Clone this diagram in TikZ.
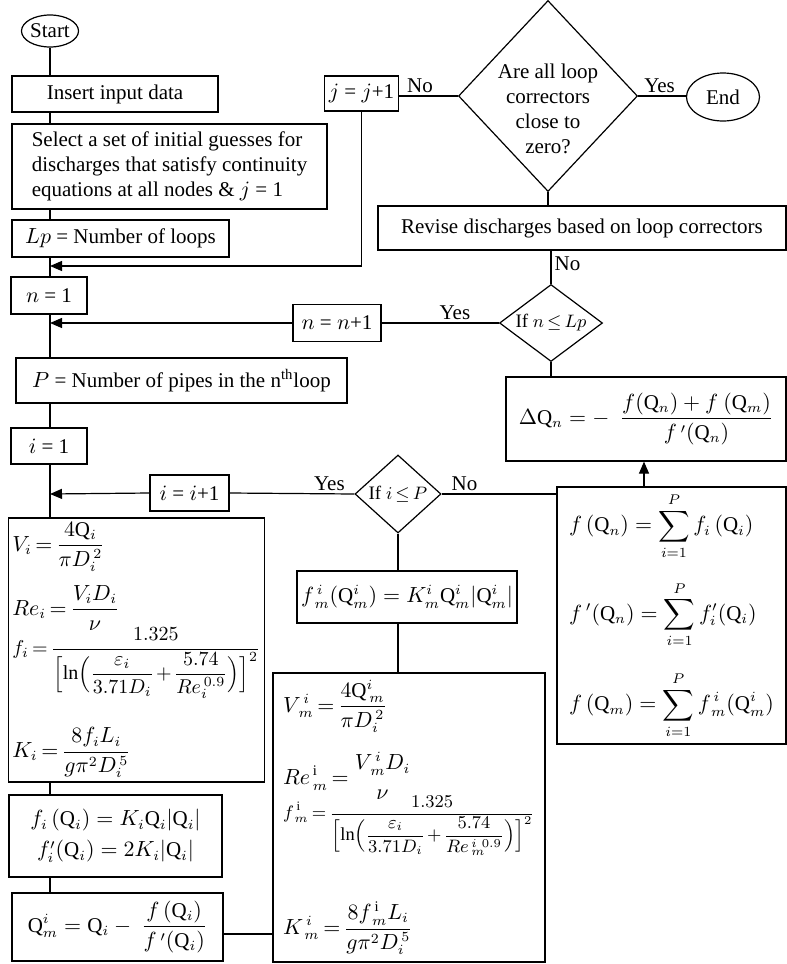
\documentclass[tikz,border=0pt]{standalone}
\usepackage{amsmath}
\usepackage{fontspec}
\setmainfont{Liberation Serif}
\usetikzlibrary{shapes,arrows.meta}

\tikzset{
  block/.style={draw, rectangle, line width=0.6pt, inner sep=2pt},
  decision/.style={draw, diamond, line width=0.6pt, inner sep=0pt},
  term/.style={draw, ellipse, line width=0.6pt, inner sep=0pt},
  conn/.style={line width=0.6pt},
  flow/.style={conn, -{Triangle[length=6pt,width=5pt]}},
  lbl/.style={inner sep=1.5pt},
  formula/.style={font={\fontsize{10.5}{12.5}\selectfont\medmuskip=2mu\thickmuskip=3mu}},
  small/.style={font={\fontsize{9.5}{11}\selectfont\medmuskip=2mu\thickmuskip=3mu}},
}
\newcommand{\Qu}{\mathrm{Q}}
\newcommand{\smallsize}[1]{\fontsize{#1}{11}\selectfont}

\begin{document}
\begin{tikzpicture}[x=0.5pt, y=-0.5pt, every node/.style={font=\fontsize{10.5}{12.5}\selectfont}]
	\useasboundingbox (0,0) rectangle (787,964);
	\coordinate (spine) at (50,0);
	% left column
	\node[term, minimum width=28.5pt, minimum height=16pt] (start) at (50,31) {Start};
	\node[block, minimum width=103pt, minimum height=18pt] (input) at (115,94) {Insert input data};
	\node[block, minimum width=157.5pt, minimum height=42.5pt, align=left] (select) at (169.5,166.5)
		{Select a set of initial guesses for\\discharges that satisfy continuity\\equations at all nodes \& $j$ = 1};
	\node[block, minimum width=108.5pt, minimum height=18.5pt] (lp) at (120.5,238.5) {$Lp$ = Number of loops};
	\node[block, minimum width=38pt, minimum height=18.5pt] (nstart) at (49,295.5) {$n$ = 1};
	\node[block, minimum width=165.5pt, minimum height=22.5pt] (pipes) at (181.5,380.5)
		{$P$ = Number of pipes in the n\textsuperscript{th}loop};
	\node[block, minimum width=38pt, minimum height=18pt] (istart) at (49,446) {$i$ = 1};
	\node[block, formula, minimum width=125.5pt, minimum height=132pt, align=left] (head) at (136.5,650)
		{$\displaystyle V_i=\frac{4\Qu_i}{\pi D_i^{\,2}}$\\[6pt]
		 $\displaystyle Re_i=\frac{V_iD_i}{\nu}$\\[-2pt]
		 {\smallsize{10}$\displaystyle f_i=\frac{1.325}{\Bigl[\ln\Bigl(\dfrac{\varepsilon_i}{3.71D_i}+\dfrac{5.74}{Re_i^{\,0.9}}\Bigr)\Bigr]^2}$}\\[13.5pt]
		 $\displaystyle K_i=\frac{8f_iL_i}{g\pi^2D_i^{\,5}}$};
	\node[block, minimum width=106.5pt, minimum height=41pt, align=center] (fq) at (115.5,836)
		{$f_i\,(\Qu_i)=K_i\Qu_i|\Qu_i|$\\[3pt] $f_i'(\Qu_i)=2K_i|\Qu_i|$};
	\node[block, minimum width=105.5pt, minimum height=34pt] (qm) at (117.5,927)
		{$\displaystyle \Qu^i_m=\Qu_i-\ \frac{f\,(\Qu_i)}{f\,'(\Qu_i)}$};
	% loop back
	\node[block, minimum width=36.5pt, minimum height=17.5pt] (jbox) at (361.5,93.5) {$j$ = $j$+1};
	\node[decision, minimum width=89.5pt, minimum height=95.5pt] (conv) at (548,96) {};
	\node[align=center] (convq) at (548,109) {Are all loop\\correctors\\close to\\zero?};
	\node[term, minimum width=36.5pt, minimum height=24pt] (finish) at (723,97) {End};
	\node[block, minimum width=204pt, minimum height=22pt] (revise) at (582,228) {Revise discharges based on loop correctors};
	\node[decision, small, minimum width=51.5pt, minimum height=38.5pt] (ifn) at (551,323) {\makebox[0pt]{If $n\le Lp$}};
	\node[block, minimum width=44pt, minimum height=18.5pt] (nplus) at (337,323) {$n$ = $n$+1};
	\node[block, minimum width=140pt, minimum height=42pt] (delta) at (646,419)
		{$\displaystyle \Delta\Qu_n=-\ \ \frac{f(\Qu_n)+f\ (\Qu_m)}{f\,'(\Qu_n)}$};
	\node[block, minimum width=39.5pt, minimum height=18pt] (iplus) at (189.5,493) {$i$ = $i$+1};
	\node[decision, small, minimum width=43pt, minimum height=39pt] (ifi) at (398,494) {\makebox[0pt]{If $i\le P$}};
	\node[block, minimum width=114.5pt, minimum height=128.5pt, align=left] (sums) at (671.5,615.5)
		{$\displaystyle f\,(\Qu_n)=\sum_{i=1}^{P}f_i\,(\Qu_i)$\\[10pt]
		 $\displaystyle f\,'(\Qu_n)=\sum_{i=1}^{P}f_i'(\Qu_i)$\\[11pt]
		 $\displaystyle f\,(\Qu_m)=\sum_{i=1}^{P}f^{\,i}_{\,m}(\Qu^i_m)$};
	\node[block, minimum width=105pt, minimum height=26pt] (fm) at (407,597)
		{$f^{\,i}_{\,m}(\Qu^i_m)=K^i_m\Qu^i_m|\Qu^i_m|$};
	\node[block, formula, minimum width=136pt, minimum height=144.5pt, align=left] (vm) at (409,817.5)
		{$\displaystyle V^{\,i}_{\,m}=\frac{4\Qu^i_{\;m}}{\pi D_i^{\,2}}$\\[9pt]
		 $\displaystyle Re^{\,\mathrm{i}}_{\,m}=\genfrac{}{}{0pt}{0}{V^{\,i}_{\,m}D_i}{\nu}$\\[-3pt]
		 {\smallsize{9.2}$\displaystyle f^{\,\mathrm{i}}_{\,m}=\frac{1.325}{\Bigl[\ln\Bigl(\dfrac{\varepsilon_i}{3.71D_i}+\dfrac{5.74}{Re^{\,i\,\,0.9}_{\,m}}\Bigr)\Bigr]^2}$}\\[22pt]
		 $\displaystyle K^{\,i}_{\,m}=\frac{8f^{\,\mathrm{i}}_{\,m}L_i}{g\pi^2D_i^{\,5}}$};

	\coordinate (jin) at (50,266);
	\coordinate (nin) at (50,323);
	\coordinate (iin) at (50,494);
	\coordinate (up) at (644,0);
	\coordinate (link) at (0,934);

	% spine
	\draw[conn] (start) -- (start |- input.north);
	\draw[conn] (input.south -| spine) -- (select.north -| spine);
	\draw[conn] (select.south -| spine) -- (lp.north -| spine);
	\draw[conn] (lp.south -| spine) -- (nstart.north -| spine);
	\draw[conn] (nstart.south -| spine) -- (pipes.north -| spine);
	\draw[conn] (pipes.south -| spine) -- (istart.north -| spine);
	\draw[conn] (istart.south -| spine) -- (head.north -| spine);
	\draw[conn] (head.south -| spine) -- (fq.north -| spine);
	\draw[conn] (fq.south -| spine) -- (qm.north -| spine);

	% outer loop
	\draw[conn] (conv.west) -- (conv.west -| jbox.east) node[lbl, above, pos=0.64] (noA) {No};
	\draw[conn] (conv.east) -- (conv.east -| finish.west) node[lbl, above, pos=0.45] (yesA) {Yes};
	\draw[flow] (jbox.south) |- (jin);
	\draw[conn] (conv.south) -- (conv.south |- revise.north);
	\draw[conn] (ifn.north) -- (ifn.north |- revise.south) node[lbl, right, pos=0.6] (noB) {No};
	\draw[conn] (ifn.west) -- (nplus.east) node[lbl, above, pos=0.375] (yesB) {Yes};
	\draw[flow] (nplus.west) -- (nin);
	\draw[conn] (ifn.south) -- (ifn.south |- delta.north);

	% inner loop
	\draw[conn] (ifi.west) -- (iplus.east) node[lbl, above, pos=0.2] (yesC) {Yes};
	\draw[flow] (iplus.west) -- (iin);
	\draw[conn] (ifi.east) -- (ifi.east -| sums.west) node[lbl, above, pos=0.2] (noC) {No};
	\draw[flow] (sums.north -| up) -- (delta.south -| up);
	\draw[conn] (ifi.south) -- (ifi.south |- fm.north);
	\draw[conn] (fm.south -| ifi) -- (vm.north -| ifi);
	\draw[conn] (qm.east |- link) -- (vm.west |- link);
\end{tikzpicture}
\end{document}
